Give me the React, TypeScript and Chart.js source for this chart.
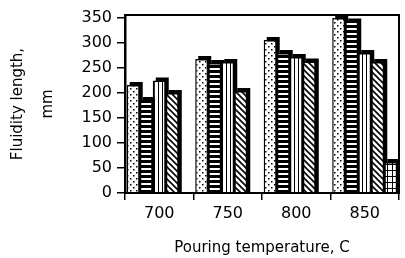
import React, { useEffect, useRef } from "react";
import { Chart, registerables } from "chart.js";

Chart.register(...registerables);

const categories = ["700", "750", "800", "850"];
const seriesDotted = [216, 268, 306, 350];
const seriesHorizontal = [186, 260, 280, 343];
const seriesVertical = [225, 262, 272, 280];
const seriesDiagonal = [200, 204, 263, 262];
const seriesCross = [null, null, null, 62];
const yTicks = [0, 50, 100, 150, 200, 250, 300, 350];

function makePattern(kind: string): CanvasPattern | string {
  const c = document.createElement("canvas");
  const ctx = c.getContext("2d")!;
  if (kind === "dots") {
    c.width = 6; c.height = 6;
    ctx.fillStyle = "#fff"; ctx.fillRect(0, 0, 6, 6);
    ctx.fillStyle = "#000";
    ctx.fillRect(1, 1, 1.5, 1.5);
    ctx.fillRect(4, 4, 1.5, 1.5);
  } else if (kind === "horiz") {
    c.width = 4; c.height = 5;
    ctx.fillStyle = "#000"; ctx.fillRect(0, 0, 4, 5);
    ctx.fillStyle = "#fff"; ctx.fillRect(0, 3, 4, 2);
  } else if (kind === "vert") {
    c.width = 4; c.height = 4;
    ctx.fillStyle = "#fff"; ctx.fillRect(0, 0, 4, 4);
    ctx.fillStyle = "#000"; ctx.fillRect(2, 0, 1, 4);
  } else if (kind === "diag") {
    c.width = 6; c.height = 6;
    ctx.fillStyle = "#fff"; ctx.fillRect(0, 0, 6, 6);
    ctx.strokeStyle = "#000"; ctx.lineWidth = 1.6;
    ctx.beginPath();
    ctx.moveTo(-1, -1); ctx.lineTo(7, 7);
    ctx.moveTo(-4, 2); ctx.lineTo(2, 8);
    ctx.moveTo(4, -2); ctx.lineTo(8, 2);
    ctx.stroke();
  } else {
    c.width = 5; c.height = 6;
    ctx.fillStyle = "#fff"; ctx.fillRect(0, 0, 5, 6);
    ctx.fillStyle = "#000";
    ctx.fillRect(2, 0, 1, 6);
    ctx.fillRect(0, 2, 5, 1);
  }
  const p = ctx.createPattern(c, "repeat");
  return p || "#888";
}

const shadowPlugin = {
  id: "shadow3d",
  beforeDatasetsDraw(chart: any) {
    const ctx = chart.ctx;
    const area = chart.chartArea;
    ctx.save();
    ctx.beginPath();
    ctx.rect(area.left, area.top - 1, area.right - area.left, area.bottom - area.top + 1);
    ctx.clip();
    ctx.fillStyle = "#000";
    chart.data.datasets.forEach((_: any, i: number) => {
      const meta = chart.getDatasetMeta(i);
      meta.data.forEach((el: any, j: number) => {
        const v = chart.data.datasets[i].data[j];
        if (v == null) return;
        const w = el.width;
        const left = el.x - w / 2;
        ctx.fillRect(left + 3, el.y - 3, w, el.base - el.y + 3);
      });
    });
    ctx.restore();
  },
};

const framePlugin = {
  id: "frame",
  afterDraw(chart: any) {
    const ctx = chart.ctx;
    const a = chart.chartArea;
    ctx.save();
    ctx.strokeStyle = "#000";
    ctx.lineWidth = 2;
    ctx.strokeRect(a.left, a.top, a.right - a.left, a.bottom - a.top);
    ctx.restore();
  },
};

export default function App() {
  const ref = useRef<HTMLCanvasElement>(null);
  useEffect(() => {
    const font = "'DejaVu Sans', sans-serif";
    const common = { borderColor: "#000", borderWidth: 1.5, borderSkipped: "bottom" as const };
    const chart = new Chart(ref.current!, {
      type: "bar",
      data: {
        labels: categories,
        datasets: [
          { data: seriesDotted, backgroundColor: makePattern("dots"), ...common },
          { data: seriesHorizontal, backgroundColor: makePattern("horiz"), ...common },
          { data: seriesVertical, backgroundColor: makePattern("vert"), ...common },
          { data: seriesDiagonal, backgroundColor: makePattern("diag"), ...common },
          { data: seriesCross, backgroundColor: makePattern("cross"), ...common },
        ] as any,
      },
      options: {
        animation: false,
        responsive: false,
        devicePixelRatio: 1,
        layout: { padding: { top: 15, right: 6, left: 0, bottom: 0 } },
        datasets: { bar: { categoryPercentage: 0.95, barPercentage: 1.0 } },
        plugins: { legend: { display: false }, tooltip: { enabled: false } },
        scales: {
          x: {
            grid: { drawOnChartArea: false, tickLength: 7, color: "#000", lineWidth: 1.5, offset: true },
            border: { display: true, color: "#000", width: 2 },
            ticks: { color: "#000", font: { family: font, size: 16 }, padding: 4 },
            title: {
              display: true,
              text: "Pouring temperature, C",
              color: "#000",
              font: { family: font, size: 15 },
              padding: { top: 0, bottom: 1 },
            },
            afterFit(scale: any) { scale.height = 65; },
          },
          y: {
            min: 0,
            max: 356,
            afterBuildTicks(scale: any) { scale.ticks = yTicks.map((v) => ({ value: v })); },
            grid: { drawOnChartArea: false, tickLength: 8, color: "#000", lineWidth: 1.5 },
            border: { display: true, color: "#000", width: 2.5 },
            ticks: { color: "#000", font: { family: font, size: 16 }, padding: 5 },
            title: {
              display: true,
              text: ["Fluidity length,", "mm"],
              color: "#000",
              font: { family: font, size: 15, lineHeight: 2 },
              padding: { top: 3, bottom: 0 },
            },
            afterFit(scale: any) { scale.width = 125; },
          },
        },
      } as any,
      plugins: [shadowPlugin, framePlugin],
    });
    return () => chart.destroy();
  }, []);
  return (
    <div style={{ position: "fixed", left: 0, top: 0, width: 405, height: 258, background: "#fff" }}>
      <canvas ref={ref} width={405} height={258} />
    </div>
  );
}
